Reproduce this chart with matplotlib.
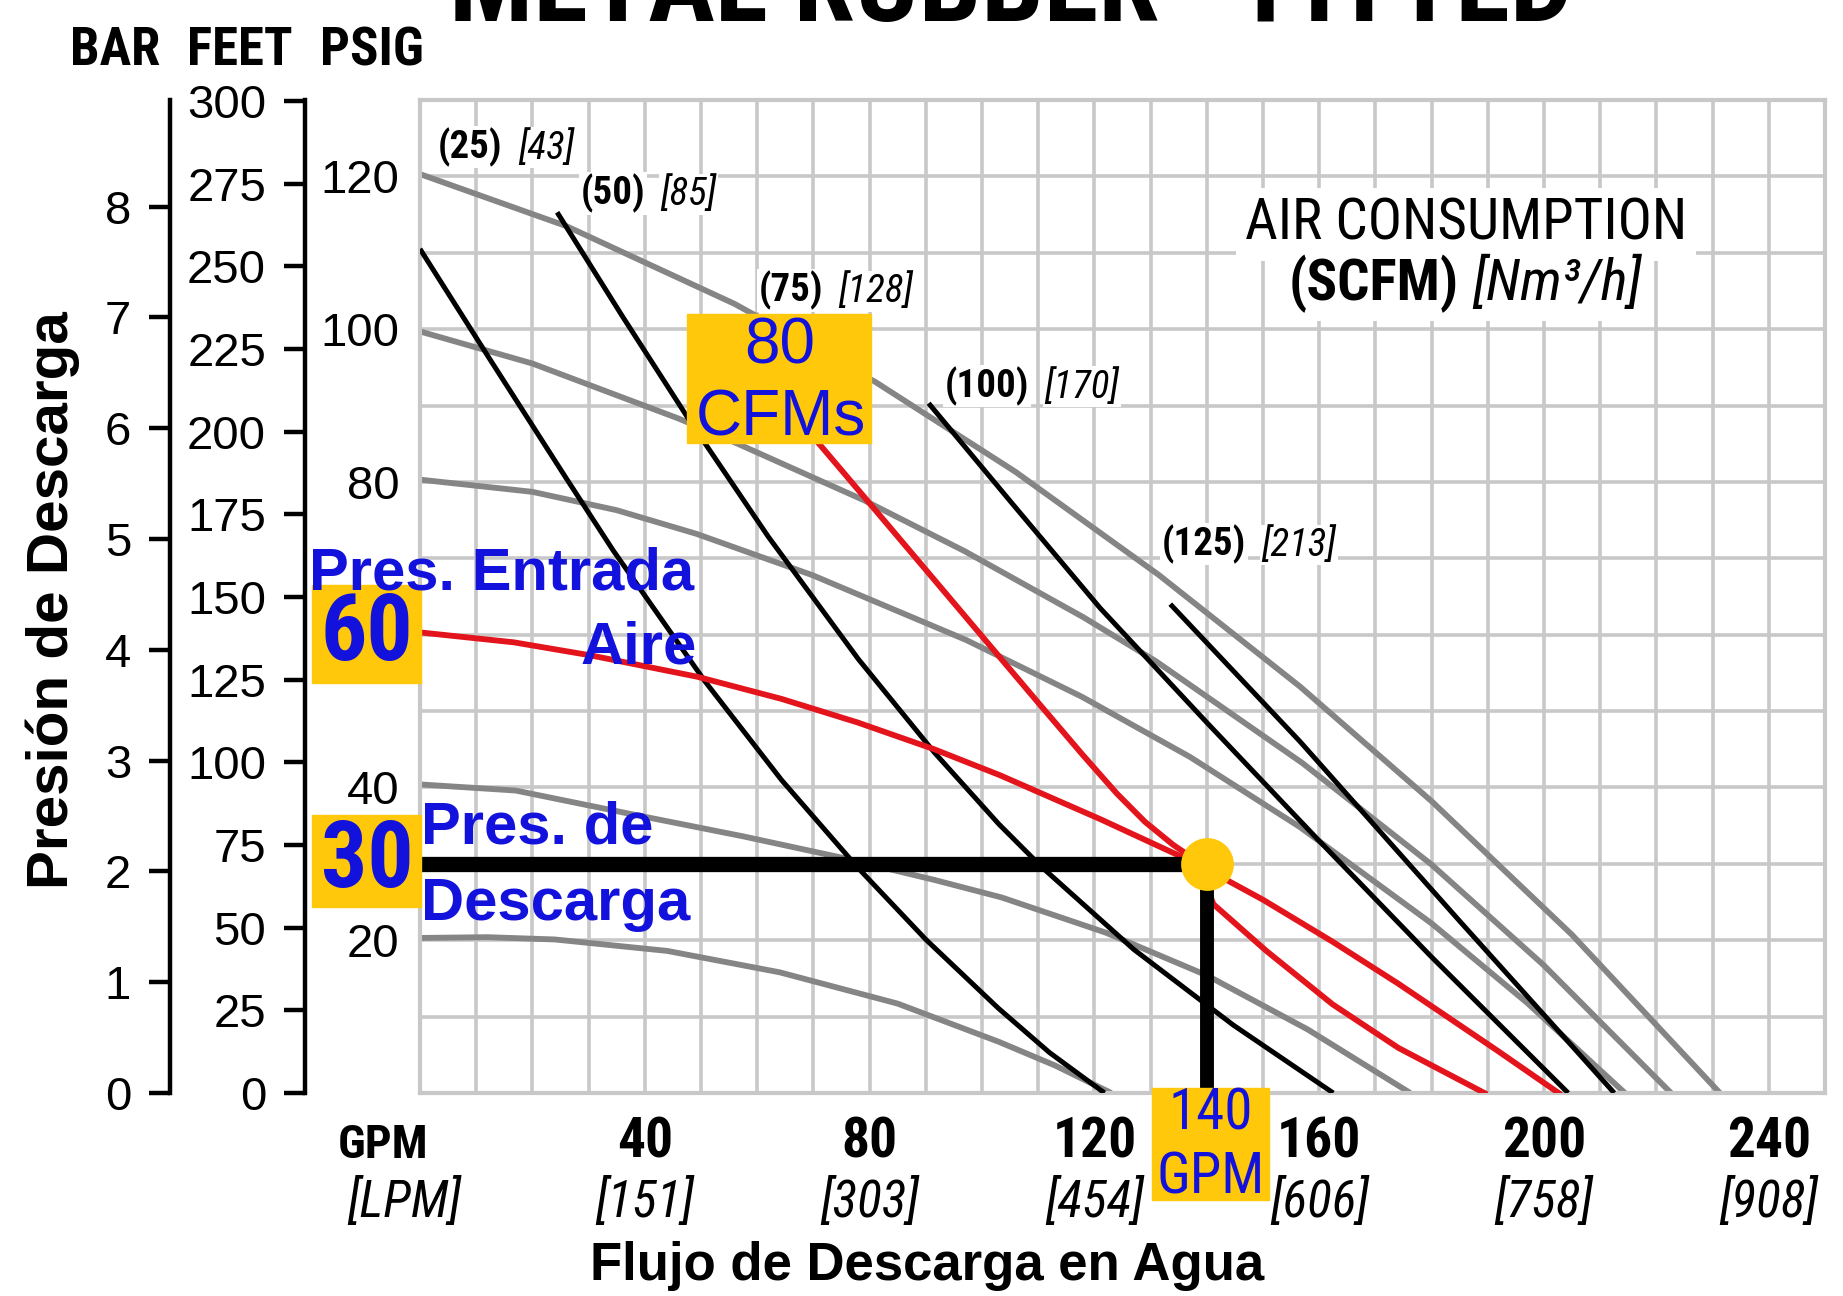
import numpy as np
import matplotlib
matplotlib.use("Agg")
import matplotlib.pyplot as plt
from matplotlib import font_manager as fm
from matplotlib.patches import Rectangle
import matplotlib.transforms as mtransforms

# ---------------- data ----------------
gpm_ticks = [40, 80, 120, 160, 200, 240]
lpm_labels = ["[151]", "[303]", "[454]", "[606]", "[758]", "[908]"]
psig_ticks = [20, 40, 80, 100, 120]
bar_ticks = [0, 1, 2, 3, 4, 5, 6, 7, 8]
feet_ticks = [0, 25, 50, 75, 100, 125, 150, 175, 200, 225, 250, 275, 300]

# constant inlet air pressure curves (GPM -> discharge psig)
p20_gpm = [0, 12, 24, 44, 64, 85, 103, 113, 123]
p20_psig = [20.3, 20.4, 20.1, 18.6, 15.8, 11.7, 6.7, 3.6, 0]
p40_gpm = [0, 17, 37, 57.5, 74.5, 91.5, 103.5, 122, 140, 158, 176.2]
p40_psig = [40.4, 39.6, 36.6, 33.6, 30.9, 27.9, 25.6, 21.0, 15.4, 8.3, 0]
p60_gpm = [0, 16.7, 30.3, 49.3, 64.3, 77.9, 91.5, 103.2, 121.2, 135.3, 140, 150, 162.4, 174.1, 191.8, 202.6]
p60_psig = [60.3, 59.0, 57.3, 54.5, 51.6, 48.5, 45.0, 41.6, 35.8, 31.0, 29.3, 25.3, 19.8, 14.3, 5.5, 0]
p80_gpm = [0, 20, 35, 49.2, 69.8, 97.2, 117.7, 137, 156.6, 180, 197, 214.4]
p80_psig = [80.3, 78.7, 76.3, 73.2, 67.8, 59.3, 51.9, 44.0, 34.8, 22.2, 11.8, 0]
p100_gpm = [0, 20, 46, 55, 79, 97, 118, 131, 157, 180, 200, 222.6]
p100_psig = [99.7, 95.5, 88.3, 85.5, 77.6, 70.9, 62.3, 56.5, 43.2, 29.9, 16.7, 0]
p120_gpm = [0, 26, 56, 81, 106, 131.5, 156.6, 180, 205, 231.3]
p120_psig = [120.3, 113.5, 103.3, 93.1, 81.3, 67.8, 53.2, 38.2, 20.7, 0]

# constant air consumption curves (SCFM)
s25_gpm = [0, 12.4, 26, 34.4, 50.7, 64.3, 77.9, 90, 102.9, 112, 121.8]
s25_psig = [110.5, 96.1, 80.5, 71.0, 53.9, 41.0, 29.5, 20.1, 11.1, 5.3, 0]
s50_gpm = [24.4, 36, 48, 62, 78, 91.5, 103, 110.6, 127, 144.7, 162.5]
s50_psig = [115.3, 101.7, 88.0, 72.8, 56.8, 44.6, 35.2, 29.6, 18.8, 8.9, 0]
s100_gpm = [90.5, 105, 121, 140, 160, 180, 204.3]
s100_psig = [90.3, 77.5, 63.5, 48.5, 33, 17.8, 0]
s125_gpm = [133.5, 156.6, 185, 212.5]
s125_psig = [64, 46, 22.5, 0]
# highlighted 80 SCFM curve (red)
s80_gpm = [71, 80, 90, 100, 110, 118, 124, 129, 134, 138, 141.2, 150.6, 162.4, 174.1, 189.4]
s80_psig = [85, 77.2, 68.5, 59.8, 51.1, 44.2, 39.2, 35.5, 32.5, 30.5, 24.7, 18.6, 11.6, 5.9, 0]

scfm_labels = ["(25)", "(50)", "(75)", "(100)", "(125)"]
nm3h_labels = ["[43]", "[85]", "[128]", "[170]", "[213]"]

op_gpm, op_psig = 140, 30
op_inlet, op_scfm = 60, 80

PSI_PER_BAR = 14.5038
FT_PER_PSI = 2.31

# ---------------- fonts ----------------
avail = {f.name for f in fm.fontManager.ttflist}
def pick(*names):
    for n in names:
        if n in avail:
            return n
    return "DejaVu Sans"
NARROW = pick("Liberation Sans Narrow", "Roboto Condensed", "Liberation Sans")
SANS = pick("Liberation Sans", "Arimo", "DejaVu Sans")
plt.rcParams["font.family"] = [SANS, "DejaVu Sans"]

W, H = 1843, 1296
L, R, T, B = 420, 1825, 100, 1093
def fx(px): return px / W
def fy(py): return 1 - py / H

BLUE = "#1212DC"
GOLD = "#FFC80A"
GRAYC = "#858585"
REDC = "#E3141B"
GRID = "#c8c8c8"

fig = plt.figure(figsize=(W / 100, H / 100), dpi=100)
ax = fig.add_axes([fx(L), fy(B), (R - L) / W, (B - T) / H])
ax.set_xlim(0, 250)
ax.set_ylim(0, 130)

# grid
xt = np.arange(0, 251, 10)
yt = np.arange(0, 131, 10)
ax.set_xticks(xt, labels=[""] * len(xt))
ax.set_yticks(yt, labels=[str(v) if v in psig_ticks else "" for v in yt])
ax.grid(True, color=GRID, lw=2.6)
ax.set_axisbelow(True)
for s in ax.spines.values():
    s.set_color(GRID)
    s.set_linewidth(3.0)
ax.tick_params(axis="both", length=0)
ax.tick_params(axis="y", pad=15, labelsize=34)

# inlet pressure curves
for g, p in [(p20_gpm, p20_psig), (p40_gpm, p40_psig), (p80_gpm, p80_psig),
             (p100_gpm, p100_psig), (p120_gpm, p120_psig)]:
    ax.plot(g, p, color=GRAYC, lw=4.2, zorder=2, solid_capstyle="butt", solid_joinstyle="round")
# air consumption curves
for g, p in [(s25_gpm, s25_psig), (s50_gpm, s50_psig), (s100_gpm, s100_psig), (s125_gpm, s125_psig)]:
    ax.plot(g, p, color="black", lw=3.6, zorder=3, solid_capstyle="butt", solid_joinstyle="round")
# highlighted curves
ax.plot(p60_gpm, p60_psig, color=REDC, lw=4.2, zorder=4, solid_joinstyle="round")
ax.plot(s80_gpm, s80_psig, color=REDC, lw=4.2, zorder=4, solid_joinstyle="round")

# operating point guides
ax.plot([0, op_gpm], [op_psig, op_psig], color="black", lw=11, zorder=5, solid_capstyle="butt")
ax.plot([op_gpm, op_gpm], [op_psig, 0], color="black", lw=10, zorder=5, solid_capstyle="butt")
ax.plot([op_gpm], [op_psig], "o", ms=38, color=GOLD, mec="none", zorder=6, clip_on=False)

# SCFM labels
scfm_pos = [(3.2, 122.4), (28.6, 116.3), (60.3, 103.6), (93.4, 91.1), (132, 70.4)]
for lab, nm, (gx, py) in zip(scfm_labels, nm3h_labels, scfm_pos):
    t = ax.text(gx, py, lab, family=NARROW, fontweight="bold", fontsize=28, ha="left",
                va="baseline", zorder=8, bbox=dict(fc="white", ec="none", pad=1))
    ax.annotate(nm, xy=(1, 0), xycoords=t, xytext=(11, 0), textcoords="offset points",
                family=NARROW, fontstyle="italic", fontsize=28, ha="left", va="bottom",
                zorder=8, bbox=dict(fc="white", ec="none", pad=1))

# air consumption header
fig.text(fx(1466), fy(240), "AIR CONSUMPTION", family=NARROW, fontsize=41, ha="center",
         va="baseline", bbox=dict(fc="white", ec="none", pad=6), zorder=8)
fig.text(fx(1459), fy(300), "(SCFM)", family=NARROW, fontweight="bold", fontsize=41,
         ha="right", va="baseline", bbox=dict(fc="white", ec="none", pad=6), zorder=8)
fig.text(fx(1472), fy(300), "[Nm³/h]", family=NARROW, fontstyle="italic", fontsize=41,
         ha="left", va="baseline", bbox=dict(fc="white", ec="none", pad=6), zorder=8)

# secondary pressure scales
bar_ax = ax.secondary_yaxis((170 - L) / (R - L),
                            functions=(lambda p: p / PSI_PER_BAR, lambda b: b * PSI_PER_BAR))
bar_ax.set_yticks(bar_ticks, labels=[str(v) for v in bar_ticks])
feet_ax = ax.secondary_yaxis((305 - L) / (R - L),
                             functions=(lambda p: p * FT_PER_PSI, lambda f: f / FT_PER_PSI))
feet_ax.set_yticks(feet_ticks, labels=[str(v) for v in feet_ticks])
for sax in (bar_ax, feet_ax):
    sax.spines["left"].set_linewidth(3.2)
    sax.tick_params(axis="y", direction="out", length=15, width=3.2, pad=13, labelsize=34)

# axis headers
for txt, cx in [("BAR", 115), ("FEET", 240), ("PSIG", 372)]:
    fig.text(fx(cx), fy(65), txt, family=NARROW, fontweight="bold", fontsize=38,
             ha="center", va="baseline")

# title (cut off at top)
fig.text(fx(1011), fy(21), "METAL RUBBER - FITTED", family=NARROW, fontweight="bold",
         fontsize=80, ha="center", va="baseline")

# x tick labels
xtr = mtransforms.blended_transform_factory(ax.transData, fig.transFigure)
for g, lp in zip(gpm_ticks, lpm_labels):
    ax.text(g, fy(1158), str(g), transform=xtr, family=NARROW, fontweight="bold",
            fontsize=40, ha="center", va="baseline", clip_on=False)
    ax.text(g, fy(1217), lp, transform=xtr, family=NARROW, fontstyle="italic",
            fontsize=37, ha="center", va="baseline", clip_on=False)
fig.text(fx(383), fy(1158), "GPM", family=NARROW, fontweight="bold", fontsize=34,
         ha="center", va="baseline")
fig.text(fx(404), fy(1217), "[LPM]", family=NARROW, fontstyle="italic", fontsize=37,
         ha="center", va="baseline")

fig.text(fx(927), fy(1280), "Flujo de Descarga en Agua", family=SANS, fontweight="bold",
         fontsize=38, ha="center", va="baseline")
fig.text(fx(53), fy(600), "Presión de Descarga", family=SANS, fontweight="bold",
         fontsize=42, ha="center", va="center", rotation=90)

# highlight boxes
def box(x0, y0, x1, y1):
    fig.add_artist(Rectangle((fx(x0), fy(y1)), (x1 - x0) / W, (y1 - y0) / H,
                             transform=fig.transFigure, color=GOLD, zorder=7))

box(312, 585, 421, 683)
box(312, 815, 421, 907)
box(687, 314, 871, 443)
box(1152, 1088, 1269, 1200)

fig.text(fx(367), fy(634), str(op_inlet), family=NARROW, fontweight="bold", fontsize=66,
         color=BLUE, ha="center", va="center", zorder=9)
fig.text(fx(367), fy(862), str(op_psig), family=NARROW, fontweight="bold", fontsize=66,
         color=BLUE, ha="center", va="center", zorder=9)
fig.text(fx(780), fy(347), str(op_scfm), family=SANS, fontsize=46, color=BLUE,
         ha="center", va="center", zorder=9)
fig.text(fx(781), fy(418), "CFMs", family=SANS, fontsize=46, color=BLUE,
         ha="center", va="center", zorder=9)
fig.text(fx(1211), fy(1114), str(op_gpm), family=NARROW, fontsize=41, color=BLUE,
         ha="center", va="center", zorder=9)
fig.text(fx(1211), fy(1178), "GPM", family=NARROW, fontsize=41, color=BLUE,
         ha="center", va="center", zorder=9)

fig.text(fx(309), fy(590), "Pres. Entrada", family=SANS, fontweight="bold", fontsize=43,
         color=BLUE, ha="left", va="baseline", zorder=9)
fig.text(fx(697), fy(663), "Aire", family=SANS, fontweight="bold", fontsize=43,
         color=BLUE, ha="right", va="baseline", zorder=9)
fig.text(fx(421), fy(843), "Pres. de", family=SANS, fontweight="bold", fontsize=43,
         color=BLUE, ha="left", va="baseline", zorder=9)
fig.text(fx(421), fy(920), "Descarga", family=SANS, fontweight="bold", fontsize=43,
         color=BLUE, ha="left", va="baseline", zorder=9)

fig.savefig("out.png", dpi=100)
